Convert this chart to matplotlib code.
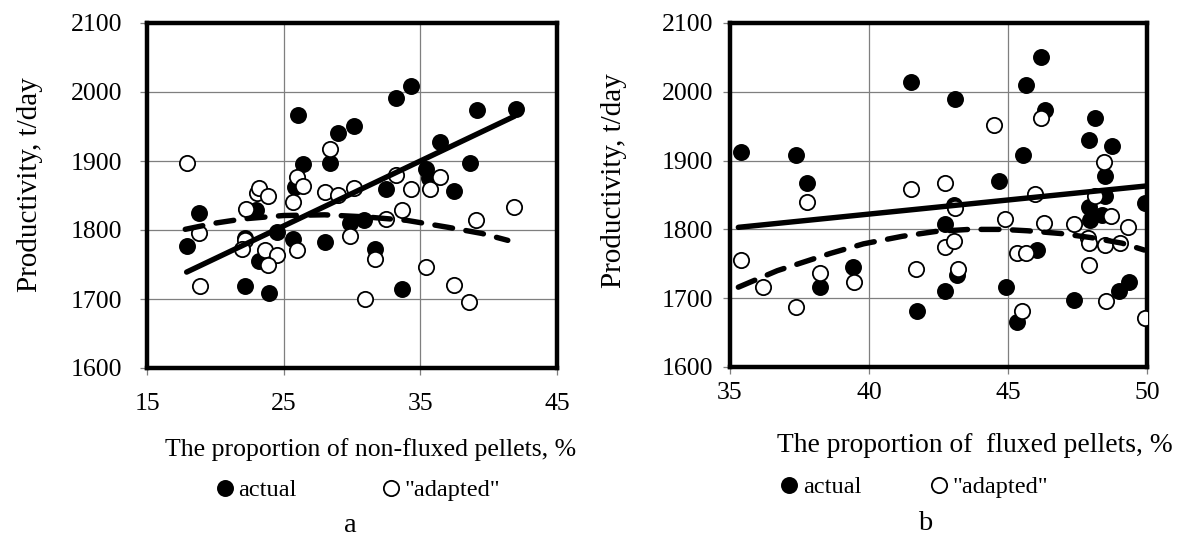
import numpy as np
import matplotlib
matplotlib.use('Agg')
import matplotlib.pyplot as plt

# panel a: non-fluxed pellets
a_act_x = [17.96, 18.81, 22.16, 23.95, 23.0, 22.19, 23.17, 24.49, 25.71, 25.86,
           26.08, 26.44, 28.03, 28.40, 29.01, 30.11, 29.82, 30.89, 31.70, 32.5,
           33.24, 34.3, 33.66, 35.44, 35.6, 36.42, 37.49, 38.62, 39.16, 41.97]
a_act_y = [1777, 1825, 1719, 1708, 1829, 1788, 1755, 1797, 1787, 1863,
           1966, 1896, 1782, 1897, 1941, 1951, 1810, 1815, 1772, 1859,
           1992, 2009, 1715, 1888, 1876, 1927, 1856, 1897, 1974, 1975]
a_adp_x = [17.93, 18.81, 18.86, 22.24, 22.19, 21.95, 23.02, 23.22, 23.87, 23.63,
           24.49, 23.88, 25.66, 26.0, 26.44, 26.0, 28.4, 28.03, 29.01, 30.11,
           29.82, 30.92, 31.70, 32.5, 33.24, 33.63, 34.3, 35.44, 35.73, 36.42,
           37.49, 38.59, 39.1, 41.89]
a_adp_y = [1897, 1796, 1719, 1830, 1786, 1772, 1854, 1861, 1850, 1771,
           1764, 1750, 1840, 1877, 1864, 1771, 1917, 1855, 1851, 1861,
           1791, 1700, 1758, 1816, 1879, 1829, 1859, 1746, 1859, 1877,
           1720, 1695, 1815, 1834]
a_lin_x = [17.9, 41.9]
a_lin_y = [1739, 1965]
a_poly_x = [17.8, 20, 22, 25, 28, 31, 34, 37, 39.5, 41.4]
a_poly_y = [1801, 1810, 1816, 1821, 1822, 1819, 1814, 1804, 1795, 1785]

# panel b: fluxed pellets
b_act_x = [35.38, 37.36, 37.78, 38.22, 39.44, 41.5, 41.72, 42.72, 42.72, 43.11,
           43.06, 43.18, 44.66, 44.92, 45.32, 45.54, 45.66, 46.06, 46.2, 46.32,
           47.36, 47.9, 48.12, 47.9, 47.94, 48.38, 48.5, 48.5, 48.74, 49.0,
           49.34, 49.94]
b_act_y = [1912, 1908, 1867, 1716, 1746, 2014, 1682, 1808, 1710, 1989,
           1836, 1733, 1871, 1716, 1666, 1908, 2010, 1770, 2050, 1974,
           1698, 1930, 1962, 1833, 1814, 1821, 1877, 1849, 1921, 1711,
           1723, 1839]
b_adp_x = [35.4, 36.2, 37.36, 37.78, 38.22, 39.46, 41.5, 41.7, 42.72, 42.72,
           43.04, 43.2, 43.1, 44.5, 44.9, 45.32, 45.64, 45.52, 45.98, 46.2,
           46.3, 47.36, 47.88, 47.92, 47.9, 48.14, 48.44, 48.5, 48.52, 48.72,
           49.04, 49.32, 49.92]
b_adp_y = [1755, 1717, 1687, 1840, 1736, 1723, 1858, 1743, 1868, 1775,
           1783, 1743, 1831, 1952, 1815, 1766, 1766, 1682, 1852, 1962,
           1809, 1808, 1788, 1780, 1748, 1848, 1898, 1777, 1696, 1819,
           1780, 1803, 1671]
b_lin_x = [35.3, 49.94]
b_lin_y = [1803, 1863]
b_poly_x = [35.3, 36.7, 38.6, 39.8, 41.2, 42.4, 43.6, 44.8, 45.7, 46.9, 48.0, 49.1, 49.9]
b_poly_y = [1716, 1740, 1765, 1779, 1790, 1797, 1800, 1800, 1798, 1794, 1788, 1780, 1770]

a_xticks = [15, 25, 35, 45]
b_xticks = [35, 40, 45, 50]
yticks = [1600, 1700, 1800, 1900, 2000, 2100]

plt.rcParams['font.family'] = ['Liberation Serif', 'DejaVu Serif']
FS = 18.5

fig = plt.figure(figsize=(11.78, 5.41), dpi=100)
ax_a = fig.add_axes([147/1178, 1 - 368/541, 410/1178, 345/541])
ax_b = fig.add_axes([730/1178, 1 - 367/541, 417/1178, 344/541])


def draw(ax, ax_x, ay, bx, by, lx, ly, px, py, xticks, xpad, ypad):
    h1, = ax.plot(ax_x, ay, 'o', ms=11, color='black', mec='black', mew=1.2,
                  label='actual', zorder=3)
    h2, = ax.plot(bx, by, 'o', ms=11, mfc='white', mec='black', mew=1.3,
                  label='"adapted"', zorder=4)
    ax.plot(lx, ly, '-', color='black', lw=3.9, solid_capstyle='round', zorder=5)
    ax.plot(px, py, '-', color='black', lw=3.9, dashes=(3.3, 2.5),
            dash_capstyle='round', zorder=5)
    ax.set_xlim(xticks[0], xticks[-1])
    ax.set_ylim(1600, 2100)
    ax.set_xticks(xticks)
    ax.set_yticks(yticks)
    ax.grid(True, color='#7f7f7f', lw=0.9)
    ax.set_axisbelow(True)
    for sp in ax.spines.values():
        sp.set_linewidth(3.2)
        sp.set_color('black')
    ax.tick_params(axis='x', direction='out', length=5, width=0.9, color='#7f7f7f',
                   labelsize=FS, pad=xpad)
    ax.tick_params(axis='y', direction='out', length=5, width=0.9, color='#7f7f7f',
                   labelsize=FS, pad=ypad)
    return h1, h2


ha = draw(ax_a, a_act_x, a_act_y, a_adp_x, a_adp_y, a_lin_x, a_lin_y,
          a_poly_x, a_poly_y, a_xticks, 13, 13)
hb = draw(ax_b, b_act_x, b_act_y, b_adp_x, b_adp_y, b_lin_x, b_lin_y,
          b_poly_x, b_poly_y, b_xticks, 6, 7)

fig.text(371/1178, 1 - 450/541, 'The proportion of non-fluxed pellets, %',
         ha='center', va='center', fontsize=FS)
fig.text(975/1178, 1 - 445/541, 'The proportion of  fluxed pellets, %',
         ha='center', va='center', fontsize=19.8)
fig.text(30/1178, 1 - 185/541, 'Productivity, t/day', rotation=90,
         ha='center', va='center', fontsize=21)
fig.text(614/1178, 1 - 181/541, 'Productivity, t/day', rotation=90,
         ha='center', va='center', fontsize=21)
fig.text(350/1178, 1 - 525/541, 'a', ha='center', va='center', fontsize=FS + 2)
fig.text(925/1178, 1 - 523/541, 'b', ha='center', va='center', fontsize=FS + 2)

fig.legend(ha, ['actual', '"adapted"'], loc='center',
           bbox_to_anchor=(359/1178, 1 - 490/541), ncol=2, frameon=False,
           fontsize=FS - 1, handlelength=0.6, handletextpad=0.25,
           columnspacing=3.6)
fig.legend(hb, ['actual', '"adapted"'], loc='center',
           bbox_to_anchor=(915/1178, 1 - 487/541), ncol=2, frameon=False,
           fontsize=FS - 1, handlelength=0.6, handletextpad=0.25,
           columnspacing=2.9)

fig.savefig('out.png', dpi=100)
